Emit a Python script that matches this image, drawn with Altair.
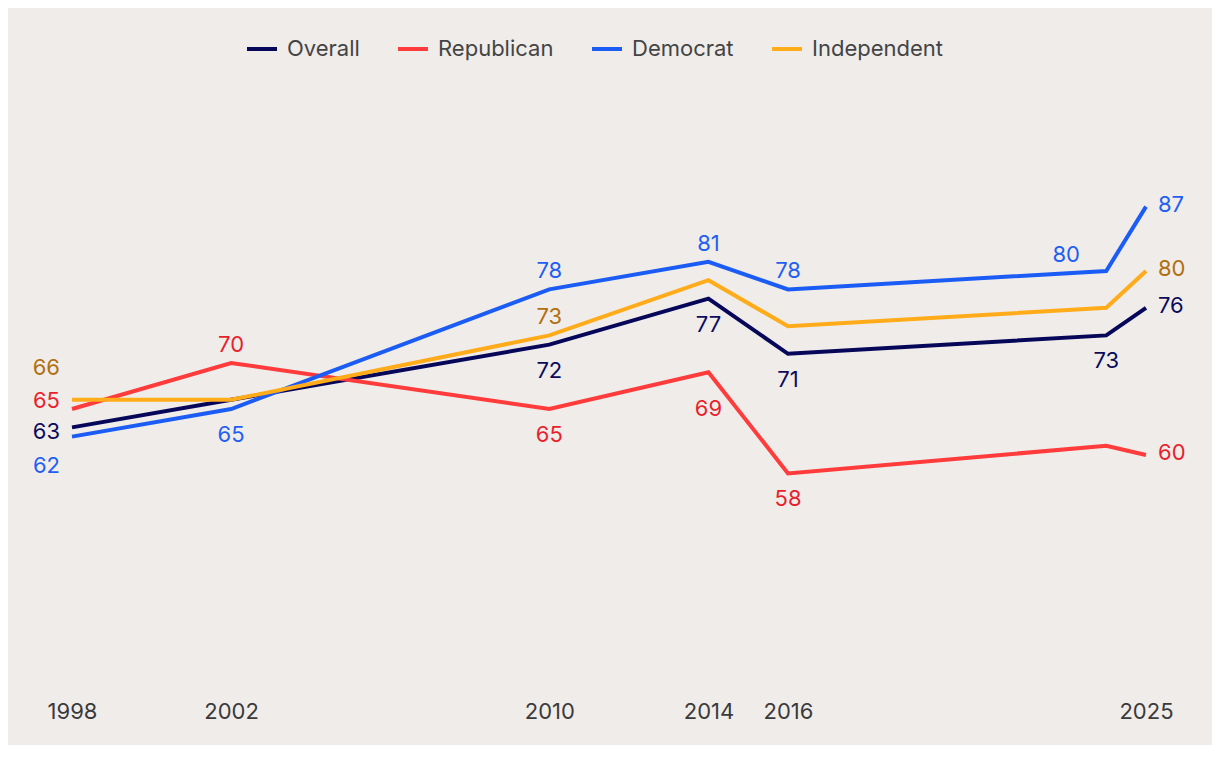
import altair as alt
import pandas as pd

# ---- data ----
years = [1998, 2002, 2010, 2014, 2016, 2024, 2025]
overall = [63, 66, 72, 77, 71, 73, 76]
republican = [65, 70, 65, 69, 58, 61, 60]
democrat = [62, 65, 78, 81, 78, 80, 87]
independent = [66, 66, 73, 79, 74, 76, 80]

series_names = ["Overall", "Republican", "Democrat", "Independent"]
tick_years = [1998, 2002, 2010, 2014, 2016, 2025]

# which points carry a value label, and where it sits
label_series = (["Overall"] * 6 + ["Republican"] * 6 + ["Democrat"] * 7 + ["Independent"] * 3)
label_years = ([1998, 2010, 2014, 2016, 2024, 2025]
               + [1998, 2002, 2010, 2014, 2016, 2025]
               + [1998, 2002, 2010, 2014, 2016, 2024, 2025]
               + [1998, 2010, 2025])
label_place = (["left3", "below", "below", "below", "below", "right"]
               + ["left2", "above", "below", "below2", "below", "right"]
               + ["left4", "below", "above", "above", "above", "aboveleft", "right"]
               + ["left1", "above", "right"])

# ---- styling ----
line_colors = ["#07075a", "#ff3b3b", "#1b5cf5", "#ffab1a"]
label_colors = {"Overall": "#0b0b5c", "Republican": "#e81f2c",
                "Democrat": "#1f5ff2", "Independent": "#b0700f"}
placements = {
    "above": (0, -18, "center"),
    "below": (0, 26, "center"),
    "below2": (0, 37, "center"),
    "right": (12, -2, "left"),
    "left1": (-12, -32, "right"),
    "left2": (-12, -8, "right"),
    "left3": (-12, 5, "right"),
    "left4": (-12, 29, "right"),
    "aboveleft": (-40, -16, "center"),
}
FONT = "Inter"
FS = 22
BG = "#f0ecea"

values = {"Overall": overall, "Republican": republican,
          "Democrat": democrat, "Independent": independent}
rows = []
for s in series_names:
    for y, v in zip(years, values[s]):
        rows.append({"year": y, "value": v, "series": s})
df = pd.DataFrame(rows)

lrows = []
for s, y, p in zip(label_series, label_years, label_place):
    v = values[s][years.index(y)]
    lrows.append({"year": y, "value": v, "series": s, "place": p,
                  "lcolor": label_colors[s]})
ldf = pd.DataFrame(lrows)

xscale = alt.Scale(domain=[1998, 2025], nice=False, zero=False)
yscale = alt.Scale(domain=[35, 100], nice=False, zero=False)

lines = alt.Chart(df).mark_line(strokeWidth=4).encode(
    x=alt.X("year:Q", scale=xscale,
            axis=alt.Axis(values=tick_years, format="d", title=None,
                          domain=False, ticks=False, grid=False,
                          labelFontSize=FS, labelColor="#3a3a3a",
                          labelFont=FONT, labelPadding=16,
                          labelFlush=False, labelOverlap=False)),
    y=alt.Y("value:Q", scale=yscale, axis=None),
    color=alt.Color("series:N",
                    scale=alt.Scale(domain=series_names, range=line_colors),
                    sort=series_names,
                    legend=alt.Legend(title=None, orient="none",
                                      legendX=173, legendY=-55,
                                      direction="horizontal",
                                      symbolType="stroke",
                                      symbolStrokeWidth=4, symbolSize=900,
                                      labelFontSize=FS, labelFont=FONT,
                                      labelColor="#444444",
                                      labelOffset=8, columnPadding=30)),
    order=alt.Order("year:Q"),
)

text_layers = []
for p, (dx, dy, align) in placements.items():
    sub = ldf[ldf["place"] == p]
    if len(sub) == 0:
        continue
    t = alt.Chart(sub).mark_text(dx=dx, dy=dy, align=align, baseline="middle",
                                 fontSize=FS, font=FONT).encode(
        x=alt.X("year:Q", scale=xscale),
        y=alt.Y("value:Q", scale=yscale),
        text=alt.Text("value:Q", format="d"),
        color=alt.Color("lcolor:N", scale=None, legend=None),
    )
    text_layers.append(t)

chart = alt.layer(lines, *text_layers).resolve_scale(
    color="independent"
).properties(
    width=1074, height=598,
    autosize=alt.AutoSizeParams(type="none"),
    padding={"left": 64, "top": 79, "right": 66, "bottom": 60},
    background=BG,
).configure_view(stroke=None)

chart.save("out.html", embed_options={"renderer": "svg", "actions": False})
